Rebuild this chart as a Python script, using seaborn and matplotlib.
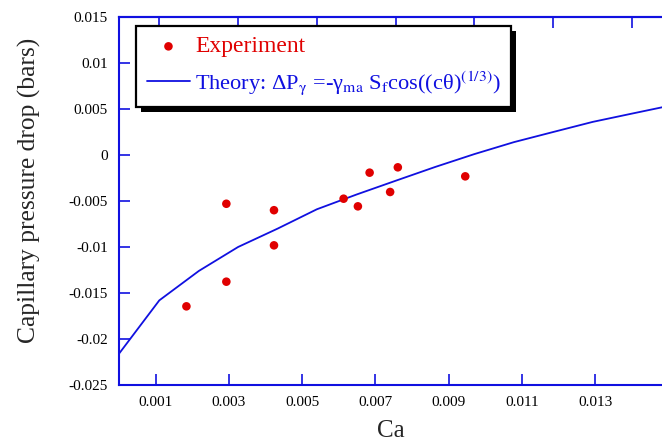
import matplotlib
matplotlib.use("Agg")
import matplotlib.pyplot as plt
import matplotlib.transforms as mtransforms
from matplotlib.patches import Rectangle
import seaborn as sns
import pandas as pd

# Experimental data
exp_ca = [0.00184, 0.00293, 0.00293, 0.00423, 0.00423, 0.00613, 0.00652, 0.00684, 0.0074, 0.00761, 0.00945]
exp_dp = [-0.01645, -0.0053, -0.01377, -0.0060, -0.00982, -0.00475, -0.00558, -0.00192, -0.00402, -0.00134, -0.00232]

# Theory curve
th_ca = [0.0, 0.0011, 0.00218, 0.00325, 0.00433, 0.0054, 0.00648, 0.00755, 0.00863,
         0.0097, 0.01078, 0.01185, 0.01293, 0.0140, 0.01508]
th_dp = [-0.0216, -0.0158, -0.0126, -0.0100, -0.0080, -0.0059, -0.0043, -0.0028, -0.0013,
         0.0001, 0.0014, 0.0025, 0.0036, 0.0045, 0.0054]

x_ticks = [0.001, 0.003, 0.005, 0.007, 0.009, 0.011, 0.013]
x_ticklabels = ["0.001", "0.003", "0.005", "0.007", "0.009", "0.011", "0.013"]
top_ticks = [0.0011, 0.00325, 0.0054, 0.00755, 0.0097, 0.01185, 0.0140]
y_ticks = [-0.025, -0.02, -0.015, -0.01, -0.005, 0, 0.005, 0.01, 0.015]
y_ticklabels = ["-0.025", "-0.02", "-0.015", "-0.01", "-0.005", "0", "0.005", "0.01", "0.015"]

exp_label = "Experiment"
th_label = r"Theory: ΔP$_{\mathrm{\gamma}}$ =-γ$_{\mathrm{ma}}$ S$_{\mathrm{f}}$cos((cθ)$^{\mathrm{(1/3)}}$)"

sns.set_style("ticks")
plt.rcParams["font.family"] = ["Liberation Serif", "DejaVu Serif"]
plt.rcParams["mathtext.fontset"] = "stix"

BLUE = "#1010e0"
RED = "#e00000"

fig = plt.figure(figsize=(6.62, 4.45), dpi=100)
ax = fig.add_axes([119 / 662, 1 - 385 / 445, 1 - 119 / 662, (385 - 17) / 445])
ax.set_facecolor("white")

df_exp = pd.DataFrame({"Ca": exp_ca, "dP": exp_dp})
df_th = pd.DataFrame({"Ca": th_ca, "dP": th_dp})

sns.lineplot(data=df_th, x="Ca", y="dP", ax=ax, color=BLUE, linewidth=1.3,
             label=th_label, sort=False, estimator=None)
sns.scatterplot(data=df_exp, x="Ca", y="dP", ax=ax, color=RED, s=38, edgecolor="none",
                label=exp_label, zorder=3)

ax.set_xlim(0, (662 - 118.6) / 36667)
ax.set_ylim(-0.025, 0.015)
ax.set_xticks(x_ticks)
ax.set_xticklabels(x_ticklabels)
ax.set_yticks(y_ticks)
ax.set_yticklabels(y_ticklabels)

for side in ["left", "bottom", "top"]:
    ax.spines[side].set_color(BLUE)
    ax.spines[side].set_linewidth(1.5)
ax.spines["right"].set_visible(False)

ax.tick_params(axis="both", direction="in", length=8, width=1.2, color=BLUE,
               labelsize=11, labelcolor="black")
ax.tick_params(axis="x", pad=8)
ax.tick_params(axis="y", pad=8)

secax = ax.secondary_xaxis("top")
secax.set_xticks(top_ticks)
secax.set_xticklabels([])
secax.tick_params(direction="in", length=8, width=1.2, color=BLUE)
secax.spines["top"].set_color(BLUE)
secax.spines["top"].set_linewidth(1.5)

ax.set_xlabel("Ca", fontsize=18, labelpad=8)
ax.set_ylabel("Capillary pressure drop (bars)", fontsize=18.4)
ax.yaxis.set_label_coords(-0.1436, 0.530)

handles, labels = ax.get_legend_handles_labels()
order = [labels.index(exp_label), labels.index(th_label)]
leg = ax.legend([handles[i] for i in order], [labels[i] for i in order],
                loc="upper left", bbox_to_anchor=(0.032, 0.9755), fontsize=16.5,
                frameon=True, fancybox=False, framealpha=1, edgecolor="black",
                handlelength=1.9, handletextpad=0.22, borderpad=0.45,
                labelspacing=0.5, borderaxespad=0)
leg.get_frame().set_linewidth(1.6)
leg.texts[0].set_color(RED)
leg.texts[0].set_fontsize(17)
leg.texts[1].set_color(BLUE)
leg.texts[1].set_fontsize(16.1)
leg.set_zorder(10)

fig.canvas.draw()
bb = leg.get_frame().get_window_extent()
shadow = Rectangle((bb.x0 + 5, bb.y0 - 5), bb.width, bb.height,
                   transform=mtransforms.IdentityTransform(), facecolor="black",
                   edgecolor="none", zorder=9, clip_on=False)
ax.add_artist(shadow)

fig.savefig("out.png", dpi=100)
